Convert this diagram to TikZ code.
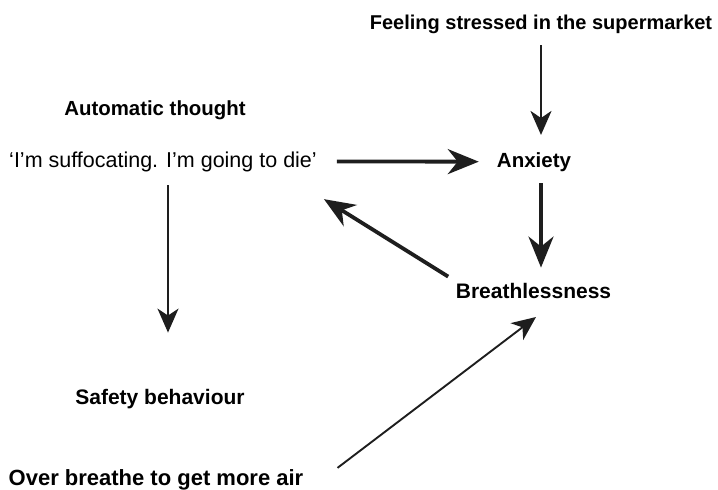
\documentclass[tikz,border=0pt]{standalone}
\usepackage{fontspec}
\setmainfont{Liberation Sans}
\usetikzlibrary{arrows.meta,calc}
\begin{document}
\begin{tikzpicture}[x=1pt,y=-1pt,
  lbl/.style={inner sep=0pt,anchor=base,font=\fontsize{20}{24}\selectfont\bfseries},
  txt/.style={inner sep=0pt,anchor=base,font=\fontsize{21.5}{26}\selectfont},
  thinarr/.style={line width=1.9pt,draw={rgb,255:red,30;green,30;blue,30},-{Stealth[length=24pt,width=21pt,inset=7pt]}},
  thickarr/.style={line width=3.8pt,draw={rgb,255:red,30;green,30;blue,30},-{Stealth[length=31pt,width=25pt,inset=10pt]}}]
\useasboundingbox (0,0) rectangle (718,490);
\node[lbl] (feel) at (541,29) {Feeling stressed in the supermarket};
\node[lbl,font=\fontsize{20.4}{24}\selectfont\bfseries] (auto) at (155,115) {Automatic thought};
\node[txt] (thought) at (163,167) {‘I’m suffocating. I’m going to die’};
\node[lbl,font=\fontsize{20.5}{24}\selectfont\bfseries] (anx) at (534,167) {Anxiety};
\node[lbl,font=\fontsize{21}{25}\selectfont\bfseries] (breath) at (533.5,298) {Breathlessness};
\node[lbl,font=\fontsize{21}{25}\selectfont\bfseries] (safety) at (160,404) {Safety behaviour};
\node[lbl,font=\fontsize{22}{26}\selectfont\bfseries] (over) at (156,485) {Over breathe to get more air};
% connectors
\draw[thinarr,shorten <=12pt,shorten >=17pt] (feel.south) -- (feel.south |- anx.north);
\draw[thickarr,shorten <=20pt,shorten >=18pt] (thought.east) -- (anx.west);
\draw[thickarr,shorten <=12pt,shorten >=15pt] (anx.south -| feel.south) -- (breath.north -| feel.south);
\draw[thickarr] ($(breath.north west)+(-7.5,-6)$) -- ($(thought.south east)+(7,27.5)$);
\draw[thinarr] ($(thought.south)+(5,13.5)$) -- ($(safety.north)+(8,-56)$);
\draw[thinarr] ($(over.east)+(34,-11.5)$) -- ($(breath.south)+(2.5,18.6)$);
\end{tikzpicture}
\end{document}
